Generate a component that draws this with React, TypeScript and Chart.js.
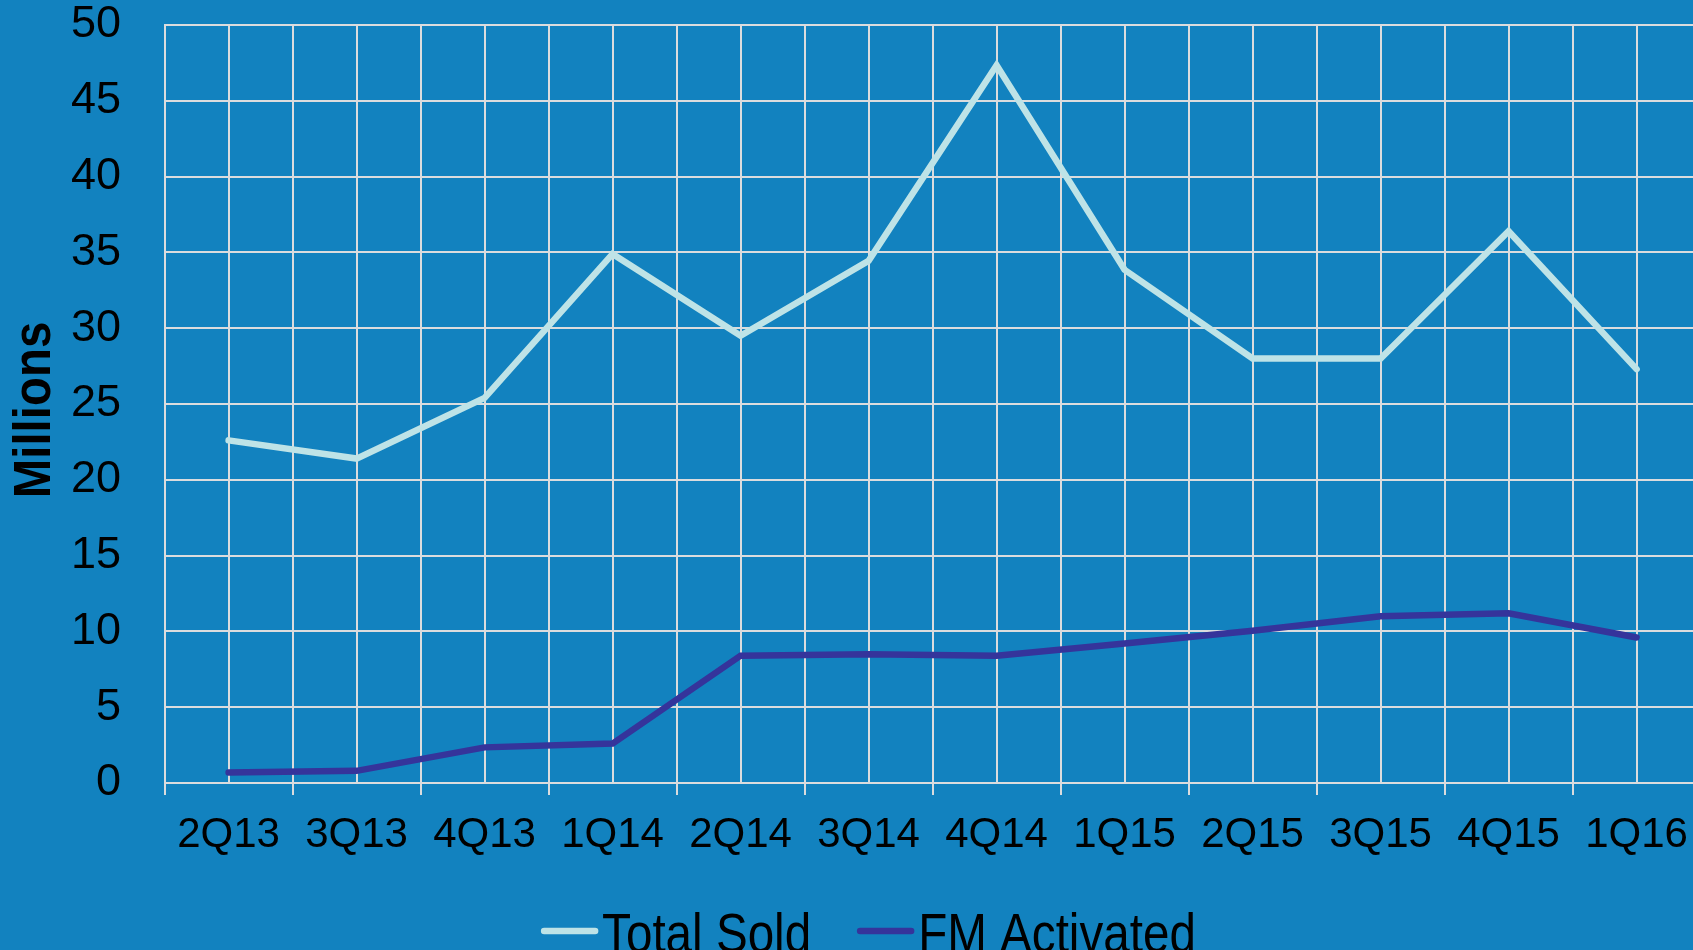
import React, { useEffect, useRef } from "react";
import { Chart, registerables } from "chart.js";

Chart.register(...registerables);

// Quarterly unit figures, in millions
const quarters = ["2Q13", "3Q13", "4Q13", "1Q14", "2Q14", "3Q14", "4Q14", "1Q15", "2Q15", "3Q15", "4Q15", "1Q16"];
const totalSold = [22.6, 21.4, 25.4, 34.9, 29.5, 34.45, 47.35, 33.85, 28.0, 28.0, 36.4, 27.3];
const fmActivated = [0.7, 0.8, 2.35, 2.6, 8.4, 8.5, 8.4, 9.2, 10.05, 11.0, 11.2, 9.6];
const seriesNames = ["Total Sold", "FM Activated"];
const yAxisTitle = "Millions";

const BG = "#1282bf";
const GRID = "#dadcde";
const TOTAL_COLOR = "#bee3e7";
const FM_COLOR = "#35349b";
const FONT = "'Liberation Sans', Arial, Helvetica, sans-serif";

const CANVAS_W = 1737;
const CANVAS_H = 1000;

const isWhole = (v: number) => Math.abs(v - Math.round(v)) < 1e-6;

// Axis title and legend drawn with condensed lettering
const condensedText = {
  id: "condensedText",
  afterDraw(chart: any) {
    const ctx = chart.ctx as CanvasRenderingContext2D;

    // rotated axis title left of the value labels
    ctx.save();
    ctx.translate(36, 410);
    ctx.rotate(-Math.PI / 2);
    ctx.scale(0.93, 1);
    ctx.font = `bold 51px ${FONT}`;
    ctx.fillStyle = "#000";
    ctx.textAlign = "center";
    ctx.textBaseline = "middle";
    ctx.fillText(yAxisTitle, 0, 0);
    ctx.restore();

    // series legend under the category labels
    const size = 56;
    const squeeze = 0.85;
    const sampleLen = 57;
    const textGap = 4;
    const itemGap = 46;
    const lineY = 931;
    const baseline = 952;
    ctx.save();
    ctx.font = `${size}px ${FONT}`;
    const items = chart.data.datasets.map((ds: any) => ({
      label: ds.label as string,
      color: ds.borderColor as string,
      w: ctx.measureText(ds.label).width * squeeze,
    }));
    const total =
      items.reduce((s: number, it: any) => s + sampleLen + textGap + it.w, 0) + itemGap * (items.length - 1);
    let x = chart.width / 2 - total / 2;
    for (const it of items) {
      ctx.strokeStyle = it.color;
      ctx.lineWidth = 6.5;
      ctx.lineCap = "round";
      ctx.beginPath();
      ctx.moveTo(x + 3, lineY);
      ctx.lineTo(x + sampleLen - 3, lineY);
      ctx.stroke();
      x += sampleLen + textGap;
      ctx.save();
      ctx.translate(x, baseline);
      ctx.scale(squeeze, 1);
      ctx.fillStyle = "#000";
      ctx.textBaseline = "alphabetic";
      ctx.textAlign = "left";
      ctx.fillText(it.label, 0, 0);
      ctx.restore();
      x += it.w + itemGap;
    }
    ctx.restore();
  },
};

export default function App() {
  const canvasRef = useRef<HTMLCanvasElement | null>(null);

  useEffect(() => {
    if (!canvasRef.current) return;
    const chart = new Chart(canvasRef.current, {
      type: "line",
      data: {
        datasets: [
          {
            label: seriesNames[0],
            data: quarters.map((_, i) => ({ x: i, y: totalSold[i] })),
            borderColor: TOTAL_COLOR,
            backgroundColor: TOTAL_COLOR,
            borderWidth: 6.5,
            borderCapStyle: "round",
            pointRadius: 0,
            tension: 0,
          },
          {
            label: seriesNames[1],
            data: quarters.map((_, i) => ({ x: i, y: fmActivated[i] })),
            borderColor: FM_COLOR,
            backgroundColor: FM_COLOR,
            borderWidth: 6.5,
            borderCapStyle: "round",
            pointRadius: 0,
            tension: 0,
          },
        ],
      },
      options: {
        responsive: false,
        animation: false,
        devicePixelRatio: 1,
        layout: { padding: { left: 0, top: 25, right: 36.4, bottom: 127 } },
        plugins: {
          legend: { display: false },
          tooltip: { enabled: false },
        },
        scales: {
          x: {
            type: "linear",
            min: -0.5,
            max: quarters.length - 0.5,
            border: { color: GRID, width: 2 },
            grid: {
              color: GRID,
              lineWidth: 2,
              drawTicks: true,
              tickLength: 12,
              tickWidth: 2,
              tickColor: (ctx: any) => (ctx.tick && !isWhole(ctx.tick.value) ? GRID : "rgba(0,0,0,0)"),
            },
            ticks: {
              stepSize: 0.5,
              autoSkip: false,
              maxRotation: 0,
              minRotation: 0,
              padding: 15,
              color: "#000",
              font: { family: FONT, size: 42, lineHeight: 1.2 },
              callback: (v: any) => (isWhole(Number(v)) ? quarters[Math.round(Number(v))] ?? "" : ""),
            },
            afterFit: (scale: any) => {
              scale.height = 90;
            },
          },
          y: {
            min: 0,
            max: 50,
            border: { color: GRID, width: 2 },
            grid: {
              color: GRID,
              lineWidth: 2,
              drawTicks: true,
              tickLength: 43.6,
              tickColor: "rgba(0,0,0,0)",
            },
            ticks: {
              stepSize: 5,
              padding: 0,
              color: "#000",
              font: { family: FONT, size: 45, lineHeight: 1.1 },
            },
            afterFit: (scale: any) => {
              scale.width = 164.6;
            },
          },
        },
      },
      plugins: [condensedText],
    } as any);
    return () => chart.destroy();
  }, []);

  return (
    <div
      style={{
        position: "fixed",
        left: 0,
        top: 0,
        width: 1693,
        height: 950,
        overflow: "hidden",
        background: BG,
      }}
    >
      <canvas
        ref={canvasRef}
        width={CANVAS_W}
        height={CANVAS_H}
        style={{ display: "block", width: CANVAS_W, height: CANVAS_H }}
      />
    </div>
  );
}
